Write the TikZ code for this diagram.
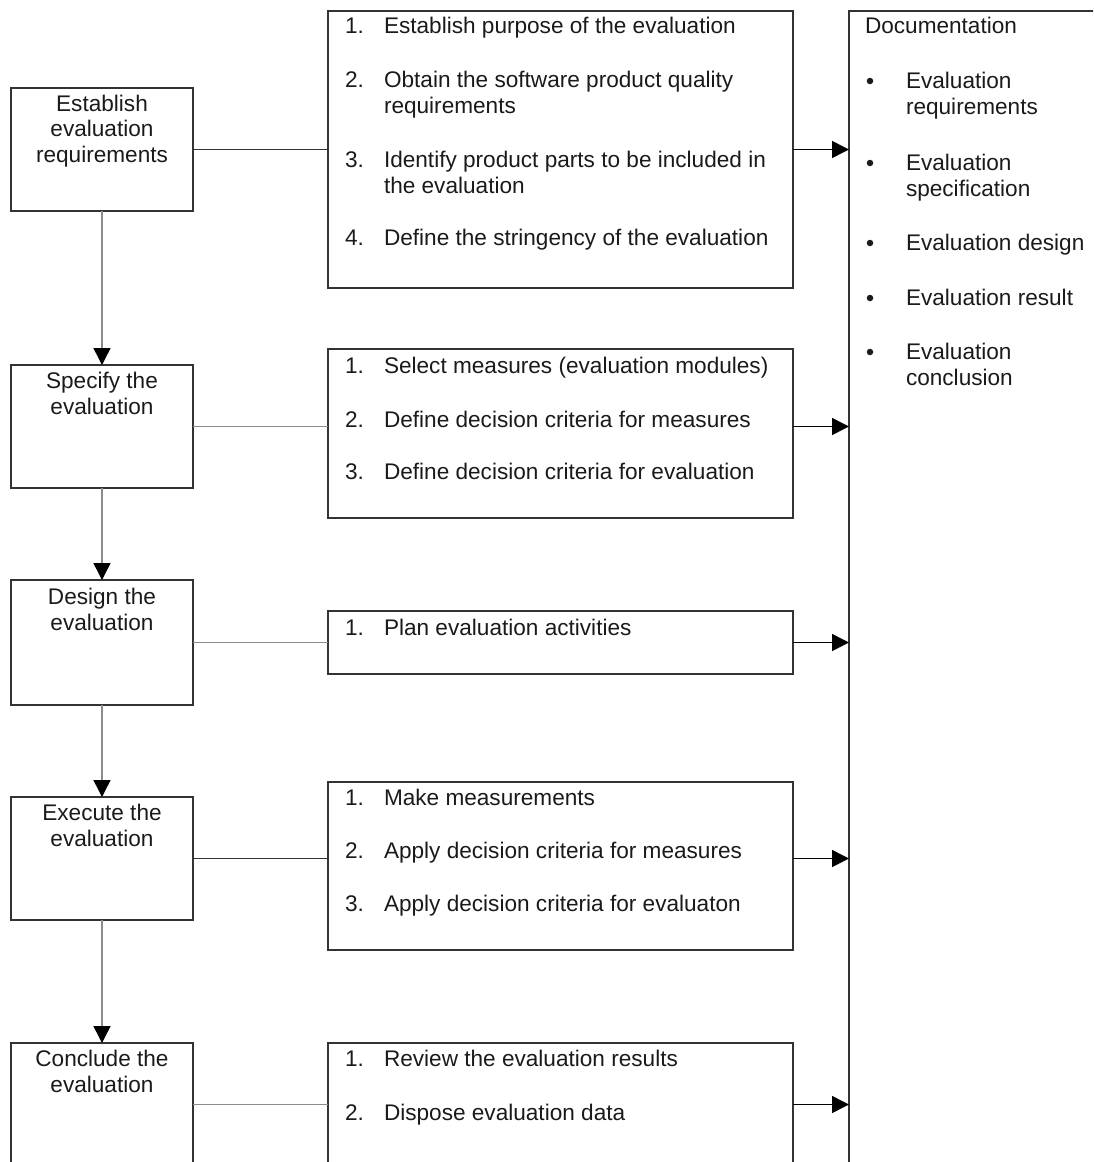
\documentclass[tikz,border=0pt]{standalone}
\usepackage{fontspec}
\setmainfont{Liberation Sans}
\usetikzlibrary{arrows.meta}
\definecolor{bdr}{HTML}{333333}
\definecolor{conn}{HTML}{8C8C8C}
\definecolor{txt}{HTML}{1A1A1A}
\begin{document}
\begin{tikzpicture}[x=1pt,y=-1pt,
  every node/.style={inner sep=0pt, outer sep=0pt, font=\fontsize{22.6}{26}\selectfont, text=txt},
  box/.style={draw=bdr, line width=1.5pt, anchor=north west},
  lbox/.style={box, minimum width=182pt},
  mbox/.style={box, minimum width=465pt},
  item/.style={anchor=base west, align=left},
  ttl/.style={anchor=base, align=center, font=\fontsize{22.6}{25.5}\selectfont},
  bul/.style={circle, fill=txt, minimum size=6.5pt},
  hline/.style={draw=conn, line width=1.5pt},
  hlinedark/.style={draw=bdr, line width=1.5pt},
  vline/.style={draw=conn, line width=1.5pt, -{Triangle[length=17pt,width=17pt,color=black]}},
  arr/.style={draw=black, line width=1.5pt, -{Triangle[length=17pt,width=17pt,color=black]}}]
\useasboundingbox (0,0) rectangle (1093,1162);
\clip (0,0) rectangle (1093,1162);

% left boxes
\node[lbox, minimum height=123pt] (b1) at (11,88) {};
\node[lbox, minimum height=123pt] (b2) at (11,365) {};
\node[lbox, minimum height=125pt] (b3) at (11,580) {};
\node[lbox, minimum height=123pt] (b4) at (11,797) {};
\node[lbox, minimum height=123pt] (b5) at (11,1043) {};

% (base anchor of a multi-line node = baseline of its last line)
\node[ttl] (t1) at (102,162) {Establish\\evaluation\\requirements};
\node[ttl] (t2) at (102,414) {Specify the\\evaluation};
\node[ttl] (t3) at (102,630) {Design the\\evaluation};
\node[ttl] (t4) at (102,846) {Execute the\\evaluation};
\node[ttl] (t5) at (102,1092) {Conclude the\\evaluation};

% middle boxes
\node[mbox, minimum height=277pt] (m1) at (328,11) {};
\node[mbox, minimum height=169pt] (m2) at (328,349) {};
\node[mbox, minimum height=63pt] (m3) at (328,611) {};
\node[mbox, minimum height=168pt] (m4) at (328,782) {};
\node[mbox, minimum height=160pt] (m5) at (328,1043) {};

\node[item] (m1n1) at (345,33) {1.};
\node[item] (m1i1) at (384,33) {Establish purpose of the evaluation};
\node[item] (m1n2) at (345,87) {2.};
\node[item] (m1i2) at (384,113) {Obtain the software product quality\\requirements};
\node[item] (m1n3) at (345,167) {3.};
\node[item] (m1i3) at (384,193) {Identify product parts to be included in\\the evaluation};
\node[item] (m1n4) at (345,245) {4.};
\node[item] (m1i4) at (384,245) {Define the stringency of the evaluation};

\node[item] (m2n1) at (345,373) {1.};
\node[item] (m2i1) at (384,373) {Select measures (evaluation modules)};
\node[item] (m2n2) at (345,427) {2.};
\node[item] (m2i2) at (384,427) {Define decision criteria for measures};
\node[item] (m2n3) at (345,479) {3.};
\node[item] (m2i3) at (384,479) {Define decision criteria for evaluation};

\node[item] (m3n1) at (345,635) {1.};
\node[item] (m3i1) at (384,635) {Plan evaluation activities};

\node[item] (m4n1) at (345,805) {1.};
\node[item] (m4i1) at (384,805) {Make measurements};
\node[item] (m4n2) at (345,858) {2.};
\node[item] (m4i2) at (384,858) {Apply decision criteria for measures};
\node[item] (m4n3) at (345,911) {3.};
\node[item] (m4i3) at (384,911) {Apply decision criteria for evaluaton};

\node[item] (m5n1) at (345,1066) {1.};
\node[item] (m5i1) at (384,1066) {Review the evaluation results};
\node[item] (m5n2) at (345,1120) {2.};
\node[item] (m5i2) at (384,1120) {Dispose evaluation data};

% documentation box
\node[box, minimum width=300pt, minimum height=1200pt] (doc) at (849,11) {};
\node[item] (doct) at (865,33) {Documentation};
\node[bul] (d1b) at (870,81) {};
\node[item] (d1) at (906,114) {Evaluation\\requirements};
\node[bul] (d2b) at (870,163) {};
\node[item] (d2) at (906,196) {Evaluation\\specification};
\node[bul] (d3b) at (870,243) {};
\node[item] (d3) at (906,250) {Evaluation design};
\node[bul] (d4b) at (870,298) {};
\node[item] (d4) at (906,305) {Evaluation result};
\node[bul] (d5b) at (870,352) {};
\node[item] (d5) at (906,385) {Evaluation\\conclusion};

% connectors left -> middle
\draw[hlinedark] (b1.east) -- (b1.east -| m1.west);
\draw[hline] (b2.east) -- (b2.east -| m2.west);
\draw[hline] (b3.east) -- (b3.east -| m3.west);
\draw[hlinedark] (b4.east) -- (b4.east -| m4.west);
\draw[hline] (b5.east) -- (b5.east -| m5.west);

% arrows middle -> documentation
\draw[arr] (b1.east -| m1.east) -- (b1.east -| doc.west);
\draw[arr] (b2.east -| m2.east) -- (b2.east -| doc.west);
\draw[arr] (b3.east -| m3.east) -- (b3.east -| doc.west);
\draw[arr] (b4.east -| m4.east) -- (b4.east -| doc.west);
\draw[arr] (b5.east -| m5.east) -- (b5.east -| doc.west);

% vertical flow
\draw[vline] (b1.south) -- (b2.north);
\draw[vline] (b2.south) -- (b3.north);
\draw[vline] (b3.south) -- (b4.north);
\draw[vline] (b4.south) -- (b5.north);
\end{tikzpicture}
\end{document}
